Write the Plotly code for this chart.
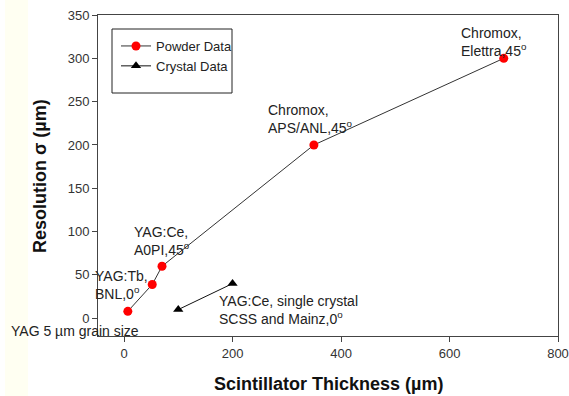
import plotly.graph_objects as go

# Data
powder_x = [7, 52, 70, 350, 700]
powder_y = [8, 39, 60, 200, 300]
crystal_x = [100, 200]
crystal_y = [10, 40]

x_ticks = [0, 200, 400, 600, 800]
y_ticks = [0, 50, 100, 150, 200, 250, 300, 350]

labels = [
    ("Chromox,<br>Elettra,45<sup>o</sup>", 617, 341),
    ("Chromox,<br>APS/ANL,45<sup>o</sup>", 262, 252),
    ("YAG:Ce,<br>A0PI,45<sup>o</sup>", 15, 111),
    ("YAG:Ce, single crystal<br>SCSS and Mainz,0<sup>o</sup>", 171, 31),
]

W, H = 569, 396
L, R, T, B = 98, 11, 15, 60
pw, ph = W - L - R, H - T - B

def px(xp):
    return (xp - L) / pw

def py(yp):
    return (H - B - yp) / ph

fig = go.Figure()
fig.add_trace(go.Scatter(
    x=powder_x, y=powder_y, mode="lines+markers", name="Powder Data",
    line=dict(color="#333333", width=1),
    marker=dict(color="#ff0000", size=9, symbol="circle"),
))
fig.add_trace(go.Scatter(
    x=crystal_x, y=crystal_y, mode="lines+markers", name="Crystal Data",
    line=dict(color="#111111", width=1),
    marker=dict(color="#000000", size=9, symbol="triangle-up"),
))

font_fam = "Liberation Sans, Arial, sans-serif"
afont = dict(family=font_fam, size=14, color="#222222")

for text, x, y in labels:
    fig.add_annotation(x=x, y=y, xref="x", yref="y", text=text, showarrow=False,
                       xanchor="left", yanchor="top", align="left", font=afont)
# labels that sit left of the axis (paper coordinates so they are not hidden)
fig.add_annotation(x=px(93), y=py(266), xref="paper", yref="paper",
                   text="YAG:Tb,<br>BNL,0<sup>o</sup>", showarrow=False,
                   xanchor="left", yanchor="top", align="left", font=afont)
fig.add_annotation(x=px(9), y=py(331), xref="paper", yref="paper",
                   text="YAG 5 µm grain size", showarrow=False,
                   xanchor="left", yanchor="middle", align="left", font=afont)
# axis titles
fig.add_annotation(x=px(328), y=py(384), xref="paper", yref="paper",
                   text="<b>Scintillator Thickness (µm)</b>", showarrow=False,
                   xanchor="center", yanchor="middle",
                   font=dict(family=font_fam, size=18, color="#111111"))
fig.add_annotation(x=px(40), y=py(176), xref="paper", yref="paper",
                   text="<b>Resolution σ (µm)</b>", showarrow=False, textangle=-90,
                   xanchor="center", yanchor="middle",
                   font=dict(family=font_fam, size=18, color="#111111"))

fig.update_layout(
    width=W, height=H,
    margin=dict(l=L, r=R, t=T, b=B, autoexpand=False),
    paper_bgcolor="white", plot_bgcolor="white",
    font=dict(family=font_fam, size=12, color="#333333"),
    showlegend=True,
    legend=dict(x=px(116), y=py(31), xanchor="left", yanchor="top",
                bgcolor="rgba(0,0,0,0)", borderwidth=0,
                font=dict(family=font_fam, size=13, color="#222222"),
                itemwidth=30, tracegroupgap=0),
    xaxis=dict(range=[-48, 800], tickvals=x_ticks, ticks="outside", ticklen=5,
               showgrid=False, zeroline=False, showline=True, linecolor="#444444",
               linewidth=1, mirror=True, tickcolor="#444444", automargin=False,
               tickfont=dict(size=13, color="#333333")),
    yaxis=dict(range=[-20.5, 350], tickvals=y_ticks, ticks="outside", ticklen=5,
               showgrid=False, zeroline=False, showline=True, linecolor="#444444",
               linewidth=1, mirror=True, tickcolor="#444444", automargin=False,
               tickfont=dict(size=13, color="#333333")),
    shapes=[
        dict(type="rect", xref="paper", yref="paper",
             x0=px(112), x1=px(232), y0=py(93), y1=py(29),
             line=dict(color="#222222", width=1), fillcolor="rgba(0,0,0,0)"),
        dict(type="rect", xref="paper", yref="paper",
             x0=px(5), x1=px(28), y0=py(H), y1=py(0),
             line=dict(width=0), fillcolor="#fffff2", layer="below"),
    ],
)

fig.write_html("out.html")
